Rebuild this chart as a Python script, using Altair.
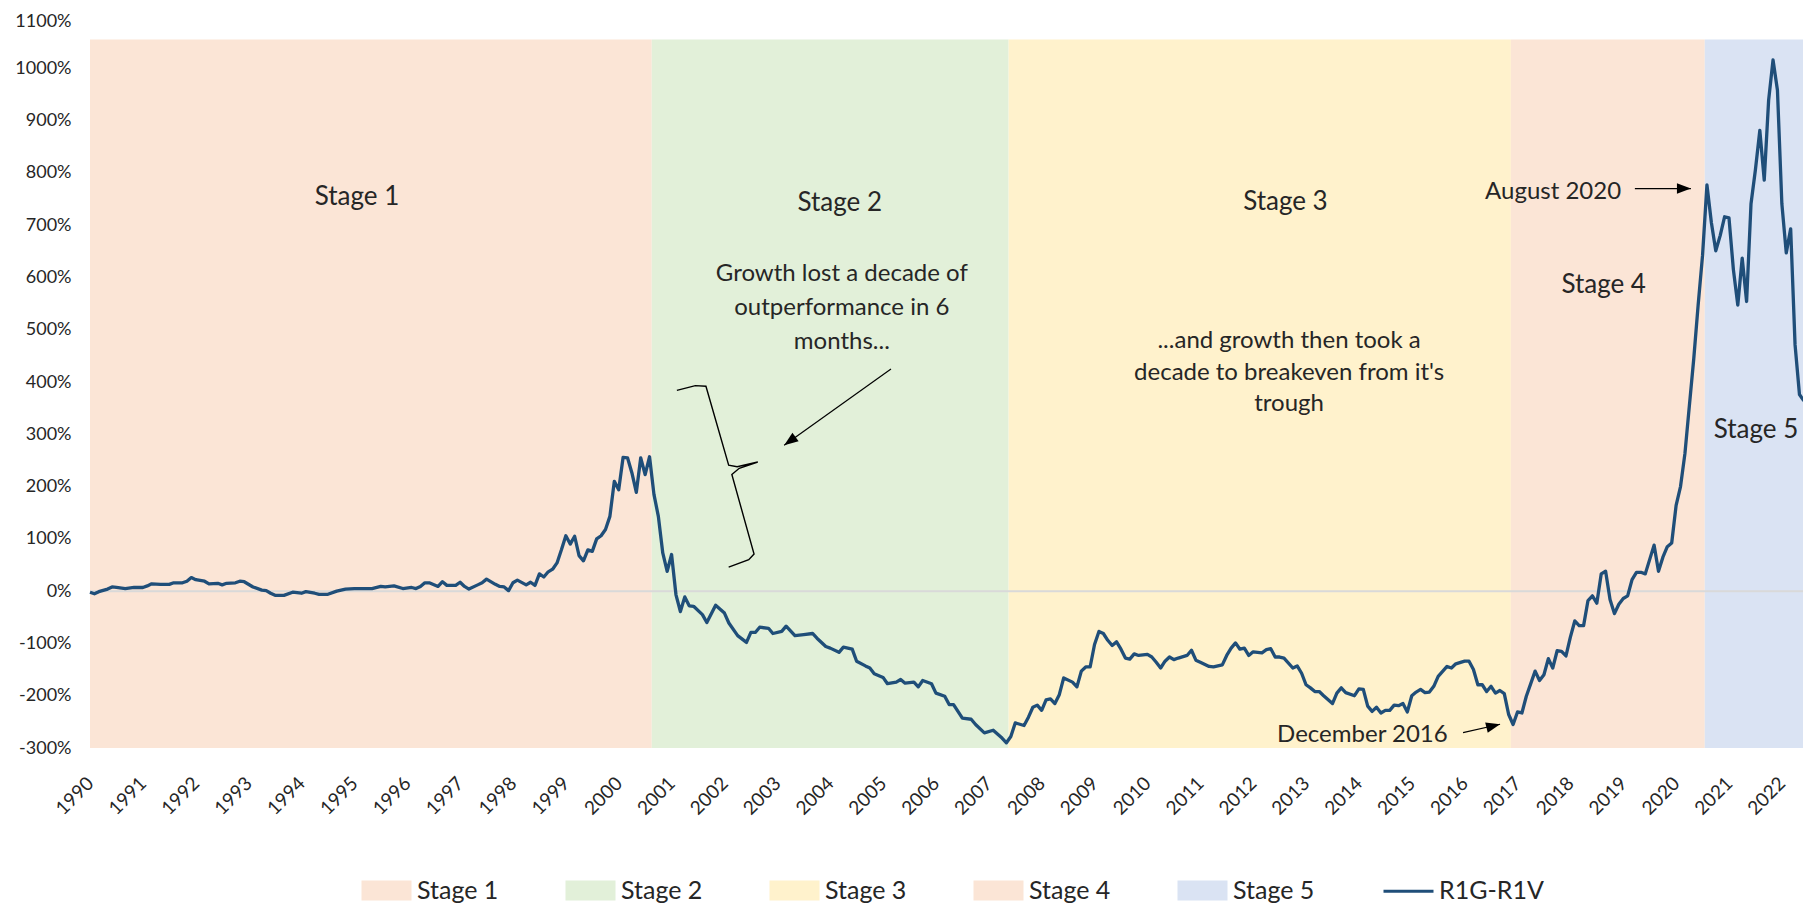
import altair as alt
import pandas as pd

# ---------------- data ----------------
# months since Jan 1990, and cumulative R1G-R1V spread in %
month_index = [
    0, 1, 2, 4, 5, 6, 8, 10, 12, 13, 14, 16, 18, 19, 21, 22, 23, 24, 26, 27,
    29, 30, 31, 33, 34, 35, 37, 39, 40, 41, 42, 44, 46, 48, 49, 51, 52, 54, 56, 58,
    60, 61, 63, 64, 66, 67, 69, 71, 73, 74, 75, 76, 77, 79, 80, 81, 83, 84, 85, 86,
    88, 89, 90, 92, 93, 94, 95, 96, 97, 99, 100, 101, 102, 103, 104, 105, 106, 107, 108, 109,
    110, 111, 112, 113, 114, 115, 116, 117, 118, 119, 120, 121, 122, 123, 124, 125, 126, 127, 128, 129,
    130, 131, 132, 133, 134, 135, 136, 137, 139, 140, 142, 144, 145, 147, 149, 150, 151, 152, 154, 155,
    157, 158, 160, 162, 164, 165, 167, 168, 170, 171, 173, 174, 176, 177, 178, 180, 181, 183, 184, 185,
    187, 188, 189, 191, 192, 194, 195, 196, 198, 200, 201, 203, 205, 207, 208, 209, 210, 212, 213, 214,
    215, 216, 217, 218, 219, 220, 221, 223, 224, 225, 226, 227, 228, 229, 230, 231, 232, 233, 234, 235,
    236, 237, 238, 240, 241, 242, 243, 244, 245, 246, 247, 249, 250, 251, 252, 254, 255, 257, 258, 259,
    260, 261, 262, 263, 264, 266, 267, 268, 269, 270, 271, 273, 274, 275, 276, 277, 278, 279, 280, 282,
    283, 284, 285, 287, 288, 289, 290, 291, 292, 293, 294, 295, 296, 297, 298, 299, 300, 301, 302, 303,
    304, 305, 306, 308, 309, 310, 312, 313, 314, 315, 316, 317, 318, 319, 320, 321, 322, 323, 324, 325,
    326, 328, 329, 330, 331, 332, 333, 334, 335, 336, 337, 338, 339, 340, 341, 342, 343, 344, 345, 346,
    347, 348, 349, 350, 351, 352, 353, 355, 356, 357, 358, 359, 360, 361, 362, 363, 364, 365, 366, 367,
    368, 369, 370, 371, 372, 373, 374, 375, 376, 377, 378, 379, 380, 381, 382, 383, 384, 385, 386, 387,
    388, 389,
]
r1g_r1v = [
    -2, -5, -1, 4, 8, 7, 5, 7, 7, 10, 14, 13, 13, 16, 16, 19, 26, 22, 19, 14,
    15, 12, 15, 16, 19, 18, 8, 2, 1, -4, -8, -8, -2, -4, -1, -4, -6, -6, 0, 4,
    5, 5, 5, 5, 9, 8, 10, 5, 7, 5, 9, 16, 16, 9, 18, 11, 11, 17, 9, 4,
    12, 16, 23, 13, 9, 8, 1, 16, 21, 12, 17, 11, 33, 27, 37, 42, 54, 79, 106, 90,
    105, 68, 58, 79, 76, 100, 106, 118, 143, 210, 194, 256, 255, 226, 189, 255, 223, 257, 185, 143,
    73, 38, 70, -7, -39, -11, -28, -29, -45, -60, -27, -42, -61, -85, -98, -79, -79, -69, -71, -81,
    -77, -67, -85, -83, -81, -90, -106, -109, -117, -107, -111, -134, -143, -147, -158, -165, -177, -174, -169, -176,
    -174, -183, -171, -177, -195, -201, -217, -217, -243, -245, -255, -271, -266, -281, -290, -278, -252, -257, -241, -222,
    -218, -228, -208, -206, -215, -198, -166, -174, -183, -153, -145, -145, -102, -77, -81, -94, -104, -97, -111, -128,
    -130, -120, -123, -121, -126, -136, -147, -134, -126, -131, -128, -123, -113, -132, -136, -144, -145, -141, -123, -109,
    -99, -111, -109, -123, -116, -118, -112, -110, -126, -126, -128, -147, -143, -157, -179, -185, -192, -192, -200, -215,
    -195, -185, -194, -200, -187, -188, -220, -230, -222, -233, -228, -228, -218, -219, -215, -231, -200, -193, -188, -194,
    -193, -182, -163, -144, -147, -139, -134, -134, -150, -179, -179, -192, -182, -195, -190, -196, -236, -255, -231, -233,
    -201, -153, -171, -160, -129, -147, -114, -115, -124, -88, -57, -66, -66, -18, -9, -23, 33, 38, -16, -43,
    -25, -14, -9, 22, 36, 36, 33, 88, 38, 65, 85, 92, 164, 200, 263, 354, 444, 547, 642, 777,
    705, 651, 680, 716, 714, 615, 547, 637, 554, 741, 806, 881, 786, 939, 1016, 958, 741, 647, 693, 471,
    376, 364,
]
series_name = "R1G-R1V"

stage_names = ["Stage 1", "Stage 2", "Stage 3", "Stage 4", "Stage 5"]
stage_start = [1990.0, 2000.625, 2007.375, 2016.875, 2020.542]
stage_end = [2000.625, 2007.375, 2016.875, 2020.542, 2022.4]
stage_floor = -300
stage_top = 1055
year_ticks = list(range(1990, 2023))
pct_ticks = list(range(-300, 1101, 100))

stage_label_x = [1995.05, 2004.18, 2012.61, 2018.63, 2021.51]
stage_label_y = [753, 742, 745, 586, 309]

note_lines = ["Growth lost a decade of", "outperformance in 6", "months...",
              "...and growth then took a", "decade to breakeven from it's", "trough"]
note_x = [2004.22, 2004.22, 2004.22, 2012.68, 2012.68, 2012.68]
note_y = [607, 542, 477, 479, 418, 357]

callout_text = ["August 2020", "December 2016"]
callout_x = [2018.96, 2015.68]
callout_y = [764, -275]

arrow_x = [2019.22, 2015.97, 2005.15]
arrow_y = [770, -270.5, 425]
arrow_tip_x = [2020.28, 2016.67, 2003.13]
arrow_tip_y = [770, -254.6, 279]
arrow_angle = [0, 346, 144]

brace_x = [2001.10, 2001.45, 2001.65, 2002.08, 2002.24, 2002.63, 2002.28, 2002.14, 2002.56, 2002.46, 2002.08]
brace_y = [384, 393, 392, 241, 238, 247, 235, 223, 71, 60, 46]

# ---------------- styles ----------------
stage_colors = ["#FBE5D6", "#E2F0D9", "#FFF2CC", "#FBE5D6", "#DAE3F3"]
line_color = "#1F4E79"
text_color = "#262626"
FONT = "Lato"

# ---------------- tables ----------------
series_df = pd.DataFrame({
    "year": [1990 + m / 12 for m in month_index],
    "value": r1g_r1v,
    "series": series_name,
})
stage_df = pd.DataFrame({
    "series": stage_names, "start": stage_start, "end": stage_end,
    "lo": stage_floor, "hi": stage_top,
})
stage_lbl_df = pd.DataFrame({"x": stage_label_x, "y": stage_label_y, "t": stage_names})
note_df = pd.DataFrame({"x": note_x, "y": note_y, "t": note_lines})
callout_df = pd.DataFrame({"x": callout_x, "y": callout_y, "t": callout_text})
arrow_df = pd.DataFrame({"x": arrow_x, "y": arrow_y, "x2": arrow_tip_x, "y2": arrow_tip_y,
                         "angle": arrow_angle})
brace_df = pd.DataFrame({"x": brace_x, "y": brace_y, "o": list(range(len(brace_x)))})
zero_df = pd.DataFrame({"v": [0]})

xs = alt.Scale(domain=[1990, 2022.4], nice=False, zero=False)
ys = alt.Scale(domain=[-300, 1100], nice=False, zero=False)
cs = alt.Scale(domain=stage_names + [series_name], range=stage_colors + [line_color])

x_axis = alt.Axis(values=year_ticks, format="d", labelAngle=-45, labelAlign="right",
                  labelBaseline="middle", ticks=False, domain=False, grid=False,
                  labelFont=FONT, labelFontSize=19, labelColor=text_color,
                  labelPadding=32, labelOverlap=False, labelFlush=False, labelBound=False,
                  title=None)
y_axis = alt.Axis(values=pct_ticks, labelExpr="datum.value + '%'", ticks=False, domain=False,
                  grid=False, labelFont=FONT, labelFontSize=18, labelColor=text_color,
                  labelPadding=19, title=None,
                  labelOffset={"condition": {"test": "datum.value == 1100", "value": 5}, "value": 0})

legend = alt.Legend(
    title=None, orient="none", direction="horizontal", legendX=270, legendY=848,
    symbolType={"expr": "datum.value == 'R1G-R1V' ? 'stroke' : 'M-0.94,-0.34H0.94V0.34H-0.94Z'"},
    symbolSize=2500, symbolStrokeWidth=3, symbolOpacity=1,
    labelFont=FONT, labelFontSize=25, labelColor=text_color, labelOffset=4,
    columnPadding=62, padding=0, labelLimit=0,
)


def X(field):
    return alt.X(field, scale=xs, axis=x_axis)


def Y(field):
    return alt.Y(field, scale=ys, axis=y_axis)


stages = alt.Chart(stage_df).mark_rect(opacity=1).encode(
    x=X("start:Q"), x2="end:Q", y=Y("lo:Q"), y2="hi:Q",
    color=alt.Color("series:N", scale=cs, legend=legend),
)

zero = alt.Chart(zero_df).mark_rule(color="#D9D9D9", strokeWidth=2).encode(y=Y("v:Q"))

line = alt.Chart(series_df).mark_line(strokeWidth=3.3, strokeJoin="round").encode(
    x=X("year:Q"), y=Y("value:Q"),
    color=alt.Color("series:N", scale=cs, legend=legend),
)

brace = alt.Chart(brace_df).mark_line(color="#000000", strokeWidth=1.4).encode(
    x=X("x:Q"), y=Y("y:Q"), order="o:Q",
)

shafts = alt.Chart(arrow_df).mark_rule(color="#000000", strokeWidth=1.2).encode(
    x=X("x:Q"), y=Y("y:Q"), x2="x2:Q", y2="y2:Q",
)

heads = alt.Chart(arrow_df).mark_point(
    shape="M0,0L-2,-0.75L-2,0.75Z", filled=True, color="#000000", opacity=1, size=196,
    strokeWidth=0,
).encode(
    x=X("x2:Q"), y=Y("y2:Q"),
    angle=alt.Angle("angle:Q", scale=None),
)

stage_text = alt.Chart(stage_lbl_df).mark_text(
    font=FONT, fontSize=26, color=text_color, align="center", baseline="middle"
).encode(x=X("x:Q"), y=Y("y:Q"), text="t:N")

note_text = alt.Chart(note_df).mark_text(
    font=FONT, fontSize=24, color=text_color, align="center", baseline="middle"
).encode(x=X("x:Q"), y=Y("y:Q"), text="t:N")

callout = alt.Chart(callout_df).mark_text(
    font=FONT, fontSize=24, color=text_color, align="right", baseline="middle"
).encode(x=X("x:Q"), y=Y("y:Q"), text="t:N")

chart = alt.layer(
    stages, zero, line, brace, shafts, heads, stage_text, note_text, callout
).properties(
    width=1713, height=732,
    autosize=alt.AutoSizeParams(type="none"),
    padding={"left": 82, "top": 8, "right": 0, "bottom": 158},
    background="white",
).configure(font=FONT).configure_view(stroke=None)

chart.save("out.html", embed_options={"renderer": "svg", "actions": False})
